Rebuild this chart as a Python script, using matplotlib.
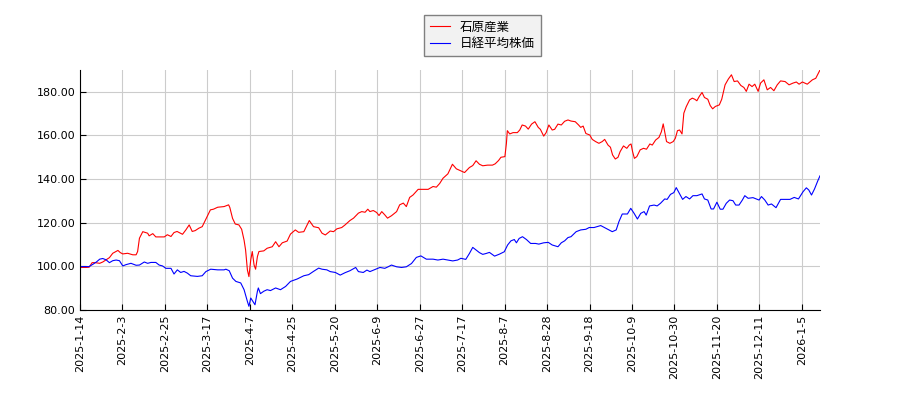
import matplotlib
matplotlib.use('Agg')
import matplotlib.pyplot as plt

plt.rcParams['font.family'] = ['DejaVu Sans', 'Noto Sans CJK JP']

# x = trading-day index from 2025-1-14
tick_labels = ['2025-1-14', '2025-2-3', '2025-2-25', '2025-3-17', '2025-4-7',
               '2025-4-25', '2025-5-20', '2025-6-9', '2025-6-27', '2025-7-17',
               '2025-8-7', '2025-8-28', '2025-9-18', '2025-10-9', '2025-10-30',
               '2025-11-20', '2025-12-11', '2026-1-5']
tick_step = 14

red_name = '石原産業'
red_x = [0, 2, 3, 4, 5, 6.5, 7.5, 8.6, 9.7, 10.8, 12.5, 13.3, 14.1, 15.7, 17.4,
         18.5, 19, 19.6, 20.7, 22.3, 22.8, 24, 25, 27.8, 28.8, 30, 31, 32, 33.8,
         34.9, 36, 37, 38, 39.2, 40.3, 41.4, 42, 43, 44, 45.4, 47.5, 49, 49.4,
         50.3, 51.2, 52.4, 53.3, 54.1, 54.6, 55.2, 55.7, 56.3, 56.8, 57.4, 57.9,
         58.5, 59, 60.6, 61.7, 63.4, 64.5, 65.6, 66.7, 68.3, 69.4, 71, 72.1, 73.8,
         74.9, 75.6, 77, 78.7, 79.8, 80.9, 82.5, 83.6, 84.7, 86.3, 87.4, 89, 90.2,
         91.8, 92.9, 94, 94.9, 95.6, 96.7, 97.8, 98.6, 99.5, 100.5, 101.4, 102.7,
         104.4, 105.4, 106.6, 107.6, 108.7, 109.8, 111.5, 113.1, 114.8, 116.4,
         117.5, 118.6, 119.7, 121.3, 122.8, 124.1, 125.4, 126.8, 128.4, 129.5,
         130.6, 131.7, 132.8, 134.4, 136, 136.9, 138, 138.8, 140.1, 140.6, 140.9,
         141.7, 142.8, 144.2, 145, 145.8, 146.9, 147.8, 148.9, 150, 151.1, 151.8,
         152.9, 153.7, 154.6, 155.7, 156.5, 157.6, 158.7, 159.8, 160.9, 161.9,
         163.3, 164.4, 165.1, 165.9, 166.8, 168.1, 168.9, 170, 171.1, 172.2, 173,
         174.1, 174.9, 175.6, 176.5, 177.4, 178.1, 179.2, 180.3, 181.1, 181.7,
         182.2, 182.8, 183.6, 184.7, 185.8, 186.8, 187.9, 188.7, 189.8, 190.9,
         191.7, 192.3, 192.8, 193.4, 194.5, 195.6, 196.3, 197, 197.7, 198.5, 199.1,
         199.9, 201, 201.9, 202.7, 203.4, 204.2, 205.1, 205.9, 207, 207.8, 208.6,
         209.5, 210.8, 211.6, 212.7, 213.8, 214.8, 215.7, 216.8, 217.9, 218.9,
         219.7, 220.6, 221.6, 222.5, 223.6, 224.4, 225.5, 226.6, 227.7, 228.8,
         229.9, 231, 232.5, 233.8, 235.1, 236.2, 237.1, 238.2, 239.8, 241.5,
         242.6, 244]
red_y = [99.5, 99.5, 99.6, 101.7, 101.7, 101.4, 102, 103, 104, 106, 107.3, 106.3,
         105.7, 106, 105.3, 105.3, 106.8, 112.9, 115.9, 115.2, 114, 115, 113.5,
         113.5, 114.5, 113.7, 115.5, 116, 114.7, 116.7, 119, 116, 116.4, 117.5,
         118.2, 121.3, 123, 125.9, 126.2, 127.1, 127.4, 128.2, 127, 122, 119.4, 119,
         117, 112, 107.5, 98.3, 95.3, 103, 106.8, 100.6, 98.7, 104.5, 106.8, 107.1,
         108.3, 109, 111.3, 109, 110.8, 111.6, 114.8, 116.7, 115.6, 115.9, 119, 121,
         118.2, 117.7, 115.2, 114.4, 116.2, 115.9, 117.2, 117.8, 119, 121, 122.1,
         124.4, 125.1, 124.8, 126.2, 125.1, 125.6, 124.7, 123.3, 125.1, 123.6,
         122.1, 123.2, 125.1, 128.2, 129, 127.4, 131.6, 132.7, 135.3, 135.3, 135.3,
         136.6, 136.3, 138, 140.4, 142.4, 146.8, 144.7, 143.9, 143, 145.3, 146.2,
         148.4, 146.8, 146.1, 146.4, 146.4, 147, 148.5, 150, 150.3, 156.4, 162.2,
         160.7, 161.3, 161.3, 162.5, 164.8, 164.3, 162.9, 165.2, 166.3, 163.7,
         162.8, 159.7, 161.3, 164.8, 162.5, 162.8, 165.2, 164.8, 166.5, 167.1,
         166.6, 166.3, 164.8, 163.7, 164.3, 160.9, 160.2, 158.2, 157.2, 156.4,
         157.2, 158.2, 155.6, 154.6, 151.1, 149.2, 150, 152.6, 155.2, 154.1, 155.6,
         156.1, 152.6, 149.5, 150.3, 153.4, 154.1, 153.7, 156.1, 155.6, 157.9,
         159.1, 161.7, 165.3, 161.7, 157.2, 156.4, 157.2, 158.7, 162.2, 162.5,
         160.7, 170.2, 173.2, 176.3, 177.1, 176.6, 175.9, 177.9, 179.7, 177.4,
         176.6, 173.7, 172.2, 173.3, 174, 176.6, 183.2, 185.9, 187.8, 184.7, 185,
         182.9, 182, 180.2, 183.5, 182.4, 183.5, 180.2, 184, 185.5, 180.9, 182,
         180.5, 183.2, 185, 184.7, 183.2, 184, 184.5, 183.5, 184.5, 183.5, 185.5,
         186.2, 190]

blue_name = '日経平均株価'
blue_x = [0, 3, 4.3, 5.4, 6.5, 7.5, 8.6, 9.7, 10.8, 11.9, 13, 14.1, 15.2, 16.8,
          18.5, 19.6, 21.2, 22.3, 23.4, 25, 26.1, 27.2, 28.3, 30, 31, 32.1, 33.2,
          34.3, 35.4, 36.5, 38.7, 40.3, 41.5, 43.1, 45.4, 47.5, 48.1, 49.2, 50.3,
          51.4, 53, 54.1, 55.2, 55.7, 56.3, 56.8, 57.7, 58.5, 58.8, 59.5, 60.6,
          61.7, 62.8, 64.5, 66.1, 67.8, 69.4, 71.6, 73.8, 75.4, 77, 78.7, 79.8,
          81.4, 82.5, 84.2, 85.8, 87.4, 89, 90.9, 91.8, 93.4, 94.6, 95.6, 97.3,
          98.9, 100.5, 101.6, 102.7, 104.4, 106, 107.6, 109.3, 110.9, 112.4, 114.2,
          116.4, 118, 119.7, 121.3, 122.9, 124.5, 125.6, 127.2, 128.4, 129.5,
          130.6, 131.7, 132.8, 133.9, 135, 136.7, 138.3, 139.9, 141, 142.1, 143.2,
          143.9, 144.8, 145.9, 147.2, 148.6, 150.2, 151.3, 152.9, 154.4, 155.7,
          157.6, 158.7, 159.8, 160.9, 161.9, 163.6, 165.1, 166.8, 167.9, 169.5,
          171.7, 173.3, 175.5, 176.8, 177.7, 178.8, 180.5, 181.6, 182.7, 183.8,
          184.9, 186, 186.7, 187.8, 189.3, 190.3, 191.4, 192.8, 193.6, 194.7,
          195.8, 196.6, 197.6, 198.7, 199.8, 201, 202.1, 203.4, 205.1, 205.9, 207,
          208.1, 208.9, 210, 211.1, 212, 213.1, 214.2, 215.3, 216.2, 217.3, 218.4,
          219.2, 220.3, 221.9, 223, 223.9, 224.7, 225.8, 226.9, 228, 229.5, 231,
          232.5, 234.1, 235.5, 236.9, 238.4, 239.5, 240.3, 241.2, 242.2, 243.3, 244]
blue_y = [99.9, 99.9, 101, 102, 103.3, 103.6, 103, 101.7, 102.6, 102.9, 102.6,
          100.2, 100.8, 101.4, 100.5, 100.6, 102, 101.4, 101.8, 101.8, 100.6,
          100.2, 99.1, 99.1, 96.5, 98.4, 97.2, 97.7, 96.9, 95.7, 95.4, 95.7, 97.6,
          98.7, 98.4, 98.4, 98.7, 98, 94.6, 93.1, 92.4, 89.3, 83.9, 81.7, 85.5,
          84.4, 82.4, 88.6, 90.1, 87.5, 88.6, 89.3, 88.9, 90.1, 89.3, 90.8, 93.1,
          94.2, 95.7, 96.2, 97.7, 99.2, 98.7, 98.4, 97.6, 97.2, 96, 97.1, 98, 99.5,
          97.6, 97.2, 98.3, 97.6, 98.6, 99.5, 99.1, 99.8, 100.6, 99.8, 99.5, 99.8,
          101.3, 104.1, 104.8, 103.3, 103.3, 102.9, 103.3, 102.9, 102.5, 102.9,
          103.7, 103.2, 105.9, 108.7, 107.5, 106.3, 105.5, 105.9, 106.4, 104.7,
          105.6, 106.7, 109.8, 111.7, 112.3, 110.8, 112.8, 113.6, 112.3, 110.5,
          110.5, 110.2, 110.8, 111, 109.8, 109, 110.8, 111.7, 113.2, 113.6, 115.9,
          116.7, 117, 117.8, 117.8, 118.7, 117.5, 115.9, 116.7, 120.5, 124, 124,
          126.6, 124.3, 121.7, 124.3, 125.1, 123.5, 127.7, 128.1, 127.7, 128.9,
          130.9, 130.7, 133, 133.8, 136.1, 133.5, 130.7, 132, 130.9, 132.4, 132.4,
          133.2, 130.9, 130.4, 126.3, 126.3, 129.4, 126.2, 126.2, 128.9, 130.4,
          130.1, 128.1, 128.1, 130.4, 132.4, 131.2, 131.5, 130.9, 130.4, 132, 130.4,
          128.1, 128.6, 126.9, 130.7, 130.7, 130.7, 131.6, 130.9, 134.2, 136, 135,
          132.7, 135.5, 139.3, 141.5]

fig = plt.figure(figsize=(9, 4), dpi=100)
ax = fig.add_axes([80 / 900, 90 / 400, 740 / 900, 240 / 400])

ax.plot(red_x, red_y, color='red', linewidth=0.8, label=red_name)
ax.plot(blue_x, blue_y, color='blue', linewidth=0.8, label=blue_name)

ax.set_xlim(0, 244)
ax.set_ylim(80, 190)
ax.set_xticks([i * tick_step for i in range(len(tick_labels))])
ax.set_xticklabels(tick_labels, rotation=90, fontsize=8)
ax.set_yticks([80, 100, 120, 140, 160, 180])
ax.set_yticklabels(['%.2f' % v for v in [80, 100, 120, 140, 160, 180]], fontsize=8)
ax.tick_params(direction='in', length=4)
ax.grid(True, color='#cccccc', linewidth=0.8)
ax.set_axisbelow(True)
for s in ['top', 'right']:
    ax.spines[s].set_visible(False)

leg = fig.legend(loc='upper center', bbox_to_anchor=(0.536, 0.978),
                 prop={'family': ['Noto Sans CJK JP', 'DejaVu Sans'], 'size': 9},
                 fancybox=False, edgecolor='#808080', facecolor='#f2f2f2',
                 handlelength=1.6, borderpad=0.45, labelspacing=0.3)
leg.get_frame().set_alpha(1)

fig.savefig('out.png', dpi=100)
